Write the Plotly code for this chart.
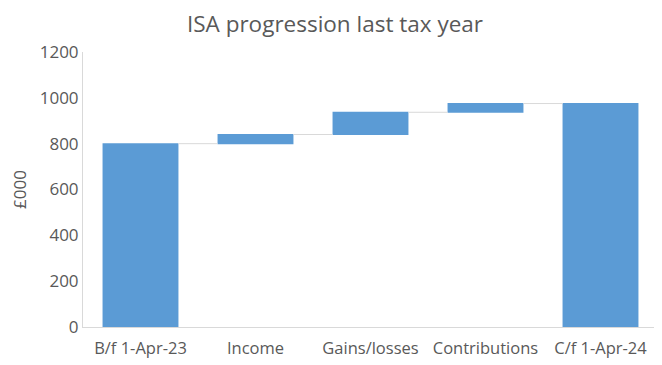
import plotly.graph_objects as go

categories = ["B/f 1-Apr-23", "Income", "Gains/losses", "Contributions", "C/f 1-Apr-24"]
values = [800, 40, 97, 38, 0]
measures = ["absolute", "relative", "relative", "relative", "total"]

bar_color = "#5B9BD5"
text_color = "#595959"

fig = go.Figure(go.Waterfall(
    x=categories,
    y=values,
    measure=measures,
    increasing=dict(marker=dict(color=bar_color)),
    decreasing=dict(marker=dict(color=bar_color)),
    totals=dict(marker=dict(color=bar_color)),
    connector=dict(line=dict(color="#D9D9D9", width=1)),
    showlegend=False,
    hoverinfo="x+y",
))

fig.update_layout(
    width=654, height=357,
    margin=dict(l=75, r=4, t=44, b=38, autoexpand=False),
    paper_bgcolor="white", plot_bgcolor="white",
    waterfallgap=0.34,
    font=dict(family="Open Sans, Liberation Sans, sans-serif", color=text_color, size=16),
    title=dict(text="ISA progression last tax year", x=0.5, xanchor="center",
               y=0.955, yanchor="middle",
               font=dict(size=22.5, color=text_color)),
    xaxis=dict(showline=True, linecolor="#D9D9D9", linewidth=1, showgrid=False,
               ticks="", automargin=False, ticklabelstandoff=6,
               tickfont=dict(size=16.5, color=text_color)),
    yaxis=dict(range=[0, 1200], tick0=0, dtick=200, showline=True, linecolor="#D9D9D9",
               linewidth=1, showgrid=False, ticks="", zeroline=False, automargin=False,
               title=dict(text="£000", font=dict(size=17, color=text_color), standoff=12),
               tickfont=dict(size=17, color=text_color)),
)

fig.write_html("out.html")
